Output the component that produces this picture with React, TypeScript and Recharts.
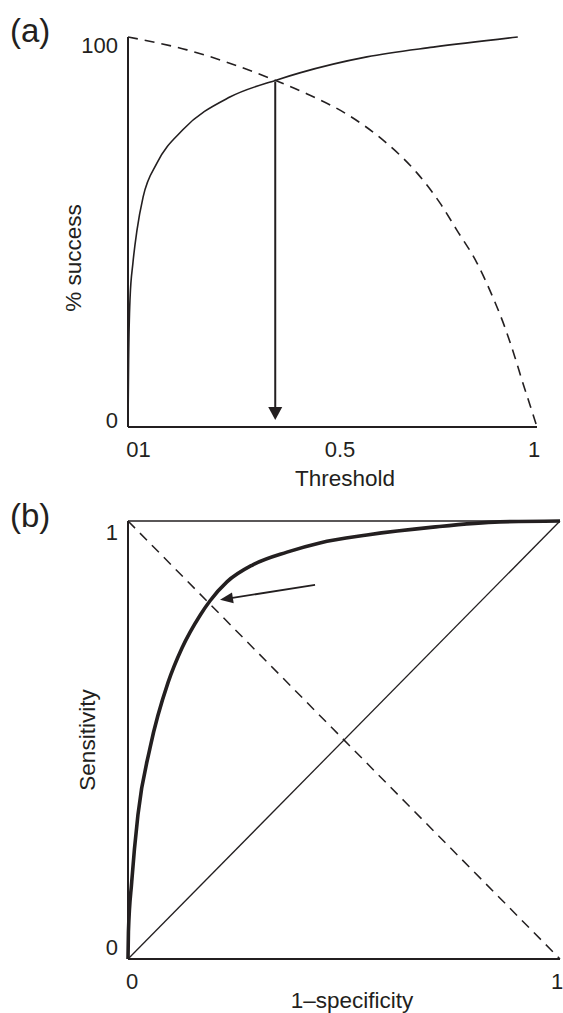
import React from 'react';
import { LineChart, Line, XAxis, YAxis, ReferenceLine, Customized } from 'recharts';

// ---------- Panel (a): % success vs threshold ----------
const A_SOLID_X = [0, 0.0015, 0.005, 0.012, 0.022, 0.037, 0.071, 0.134, 0.249, 0.364, 0.42, 0.584, 0.746, 0.953];
const A_SOLID_Y = [0, 17, 33, 42, 50.5, 59, 67.7, 76.2, 84.6, 89, 90.8, 94.9, 97.4, 100];
const A_DASH_X = [0, 0.144, 0.364, 0.438, 0.543, 0.623, 0.707, 0.763, 0.804, 0.853, 0.892, 0.922, 0.946, 0.963, 0.983, 1];
const A_DASH_Y = [100, 96.7, 88.7, 85.4, 79.7, 73.6, 65.1, 57.4, 50.5, 42.1, 33.3, 25.4, 17.9, 12.1, 5.6, 0];
const A_X_TICKS = [0, 0.5, 1];
const A_X_LABELS = ['01', '0.5', '1'];
const A_Y_TICKS = [0, 100];
const A_Y_LABELS = ['0', '100'];
const A_ARROW = { fromX: 0.36, fromY: 88.5, toX: 0.36, toY: 1.8 };

// ---------- Panel (b): ROC ----------
const B_ROC_X = [0, 0.001, 0.0086, 0.023, 0.051, 0.093, 0.125, 0.167, 0.19, 0.229, 0.289, 0.368, 0.444, 0.553, 0.706, 0.861, 1];
const B_ROC_Y = [0, 0.062, 0.176, 0.329, 0.482, 0.632, 0.71, 0.785, 0.818, 0.861, 0.9, 0.929, 0.95, 0.968, 0.986, 0.998, 1];
const B_DIAG_X = [0, 1];
const B_DIAG_Y = [0, 1];
const B_ANTI_X = [0, 1];
const B_ANTI_Y = [1, 0];
const B_X_TICKS = [0, 1];
const B_X_LABELS = ['0', '1'];
const B_Y_TICKS = [0, 1];
const B_Y_LABELS = ['0', '1'];
const B_ARROW = { fromX: 0.433, fromY: 0.854, toX: 0.213, toY: 0.82 };

const zip = (xs: number[], ys: number[]) => xs.map((x, i) => ({ x, y: ys[i] }));

const INK = '#231f20';
const FONT = '"Liberation Sans", Arial, Helvetica, sans-serif';
const TICK_FS = 22;

const makeXTick = (ticks: number[], labels: string[], nudges: number[]) => (props: any) => {
  const { x, y, payload } = props;
  const i = ticks.indexOf(payload.value);
  return (
    <text x={x + nudges[i]} y={y + 22} textAnchor="middle" dominantBaseline="central"
      fontFamily={FONT} fontSize={TICK_FS} fill={INK}>
      {labels[i]}
    </text>
  );
};

const makeYTick = (ticks: number[], labels: string[], nudges: number[]) => (props: any) => {
  const { x, y, payload } = props;
  const i = ticks.indexOf(payload.value);
  return (
    <text x={x - 10} y={y + nudges[i]} textAnchor="end" dominantBaseline="central"
      fontFamily={FONT} fontSize={TICK_FS} fill={INK}>
      {labels[i]}
    </text>
  );
};

const arrowShape = (len: number, half: number, width: number) => (props: any) => {
  const { x1, y1, x2, y2 } = props;
  const dx = x2 - x1;
  const dy = y2 - y1;
  const d = Math.sqrt(dx * dx + dy * dy) || 1;
  const ux = dx / d;
  const uy = dy / d;
  const bx = x2 - ux * len;
  const by = y2 - uy * len;
  const px = -uy;
  const py = ux;
  return (
    <g>
      <line x1={x1} y1={y1} x2={bx + ux * 2} y2={by + uy * 2} stroke={INK} strokeWidth={width} />
      <polygon
        points={`${x2},${y2} ${bx + px * half},${by + py * half} ${bx - px * half},${by - py * half}`}
        fill={INK}
      />
    </g>
  );
};

const PanelAText = () => (
  <g fontFamily={FONT} fill={INK}>
    <text x={10} y={42} fontSize={33}>(a)</text>
    <text x={345} y={486} fontSize={22.5} textAnchor="middle">Threshold</text>
    <text x={81} y={258} fontSize={22.5} textAnchor="middle" transform="rotate(-90 81 258)">% success</text>
  </g>
);

const PanelBText = () => (
  <g fontFamily={FONT} fill={INK}>
    <text x={10} y={37} fontSize={33}>(b)</text>
    <text x={352} y={518} fontSize={22.5} textAnchor="middle">1–specificity</text>
    <text x={95} y={250} fontSize={22.5} textAnchor="middle" transform="rotate(-90 95 250)">Sensitivity</text>
  </g>
);

export default function App() {
  const solidA = zip(A_SOLID_X, A_SOLID_Y);
  const dashA = zip(A_DASH_X, A_DASH_Y);
  const roc = zip(B_ROC_X, B_ROC_Y);
  const diag = zip(B_DIAG_X, B_DIAG_Y);
  const anti = zip(B_ANTI_X, B_ANTI_Y);

  return (
    <div style={{ position: 'absolute', left: 0, top: 0, width: 563, height: 1013, background: '#fff' }}>
      <div style={{ position: 'absolute', left: 0, top: 0 }}>
        <LineChart width={563} height={500} margin={{ top: 37, right: 26, bottom: 23, left: 68 }}>
          <XAxis type="number" dataKey="x" domain={[0, 1]} ticks={A_X_TICKS} height={50}
            tickLine={false} tickSize={0} tickMargin={0} interval={0}
            axisLine={{ stroke: INK, strokeWidth: 2 }}
            tick={makeXTick(A_X_TICKS, A_X_LABELS, [10.5, 7.5, -3])} />
          <YAxis type="number" dataKey="y" domain={[0, 100]} ticks={A_Y_TICKS} width={60}
            tickLine={false} tickSize={0} tickMargin={0} interval={0}
            axisLine={{ stroke: INK, strokeWidth: 2 }}
            tick={makeYTick(A_Y_TICKS, A_Y_LABELS, [-7, 8])} />
          <Line data={dashA} dataKey="y" type="monotone" dot={false} activeDot={false}
            stroke={INK} strokeWidth={1.6} strokeDasharray="10 7" isAnimationActive={false} />
          <Line data={solidA} dataKey="y" type="monotone" dot={false} activeDot={false}
            stroke={INK} strokeWidth={1.6} isAnimationActive={false} />
          <ReferenceLine
            segment={[{ x: A_ARROW.fromX, y: A_ARROW.fromY }, { x: A_ARROW.toX, y: A_ARROW.toY }]}
            ifOverflow="visible"
            shape={arrowShape(13, 7, 2)} />
          <Customized component={PanelAText} />
        </LineChart>
      </div>
      <div style={{ position: 'absolute', left: 0, top: 490 }}>
        <LineChart width={563} height={523} margin={{ top: 31, right: 3, bottom: 4, left: 68 }}>
          <XAxis type="number" dataKey="x" domain={[0, 1]} ticks={B_X_TICKS} height={50}
            tickLine={false} tickSize={0} tickMargin={0} interval={0}
            axisLine={{ stroke: INK, strokeWidth: 2 }}
            tick={makeXTick(B_X_TICKS, B_X_LABELS, [4, -3])} />
          <YAxis type="number" dataKey="y" domain={[0, 1]} ticks={B_Y_TICKS} width={60}
            tickLine={false} tickSize={0} tickMargin={0} interval={0}
            axisLine={{ stroke: INK, strokeWidth: 2 }}
            tick={makeYTick(B_Y_TICKS, B_Y_LABELS, [-12, 11])} />
          <ReferenceLine y={1} stroke={INK} strokeWidth={1.6} ifOverflow="visible" />
          <Line data={anti} dataKey="y" type="linear" dot={false} activeDot={false}
            stroke={INK} strokeWidth={1.5} strokeDasharray="10 7" isAnimationActive={false} />
          <Line data={diag} dataKey="y" type="linear" dot={false} activeDot={false}
            stroke={INK} strokeWidth={1.3} isAnimationActive={false} />
          <Line data={roc} dataKey="y" type="monotone" dot={false} activeDot={false}
            stroke={INK} strokeWidth={3.6} isAnimationActive={false} />
          <ReferenceLine
            segment={[{ x: B_ARROW.fromX, y: B_ARROW.fromY }, { x: B_ARROW.toX, y: B_ARROW.toY }]}
            ifOverflow="visible"
            shape={arrowShape(13, 5.5, 1.8)} />
          <Customized component={PanelBText} />
        </LineChart>
      </div>
    </div>
  );
}
